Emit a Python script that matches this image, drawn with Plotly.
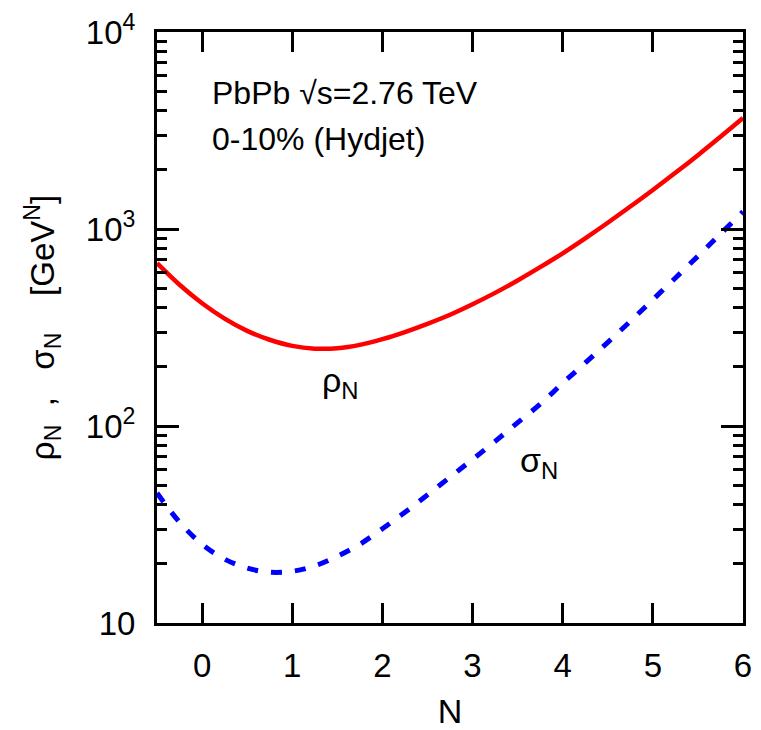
import plotly.graph_objects as go

N = [-0.5, -0.25, 0.0, 0.25, 0.5, 0.75, 1.0, 1.25, 1.5, 1.75, 2.0, 2.25, 2.5,
     2.75, 3.0, 3.25, 3.5, 3.75, 4.0, 4.25, 4.5, 4.75, 5.0, 5.25, 5.5, 5.75, 6.0]
rho = [671, 521, 420, 351, 304, 274, 255, 247, 248, 258, 276, 300, 330,
       367, 415, 474, 548, 640, 753, 897, 1076, 1300, 1578, 1928, 2371, 2938, 3656]
sigma = [45.7, 32.5, 25.1, 21.1, 19.0, 18.1, 18.3, 19.5, 21.8, 25.1, 30.1, 36.5, 44.7,
         55.0, 67.6, 83.6, 104, 129, 165, 209, 266, 340, 438, 564, 728, 944, 1225]

x_ticks = [0, 1, 2, 3, 4, 5, 6]
y_tickvals = [10, 100, 1000, 10000]
y_ticktext = ["10", "10<sup>2</sup>", "10<sup>3</sup>", "10<sup>4</sup>"]

FONT = "Liberation Sans, Arial, Helvetica, sans-serif"
NB = "\u00a0"

L, R, T, B = 157, 18, 32, 107
W, H = 761, 730
pw, ph = W - L - R, H - T - B


def px_to_paper(px, py):
    return (px - L) / pw, 1 - (py - T) / ph


fig = go.Figure()
fig.add_trace(go.Scatter(x=N, y=rho, mode="lines",
                         line=dict(color="#ff0000", width=4.5, shape="spline"),
                         showlegend=False))
fig.add_trace(go.Scatter(x=N, y=sigma, mode="lines",
                         line=dict(color="#0000ff", width=5, dash="11px,13px", shape="spline"),
                         showlegend=False))

fig.add_annotation(x=1.53, y=2.223, xref="x", yref="y", text="ρ<sub>N</sub>", showarrow=False,
                   font=dict(size=34, color="black", family=FONT))
fig.add_annotation(x=3.74, y=1.817, xref="x", yref="y", text="σ<sub>N</sub>", showarrow=False,
                   font=dict(size=34, color="black", family=FONT))

ax, ay = px_to_paper(210, 93)
fig.add_annotation(x=ax, y=ay, xref="paper", yref="paper", text="PbPb √s=2.76 TeV",
                   showarrow=False, font=dict(size=32, color="black", family=FONT),
                   xanchor="left", yanchor="middle")
ax, ay = px_to_paper(210, 139)
fig.add_annotation(x=ax, y=ay, xref="paper", yref="paper", text="0-10% (Hydjet)",
                   showarrow=False, font=dict(size=32, color="black", family=FONT),
                   xanchor="left", yanchor="middle")

ytitle = ("ρ<sub>N</sub>" + NB * 2 + "," + NB * 3 + "σ<sub>N</sub>" + NB * 4
          + "[GeV<sup>N</sup>]")

fig.update_layout(
    width=W, height=H,
    margin=dict(l=L, r=R, t=T, b=B, autoexpand=False),
    paper_bgcolor="white", plot_bgcolor="white",
    font=dict(family=FONT, size=32, color="black"),
    xaxis=dict(range=[-0.5, 6], tickvals=x_ticks, ticks="inside", ticklen=20, tickwidth=3,
               tickcolor="black", showline=True, linewidth=3, linecolor="black", mirror="ticks",
               showgrid=False, zeroline=False, ticklabelstandoff=11, automargin=False,
               tickfont=dict(size=33, family=FONT),
               title=dict(text="N", font=dict(size=34, family=FONT), standoff=22)),
    yaxis=dict(type="log", range=[1, 4], tickvals=y_tickvals, ticktext=y_ticktext,
               ticks="inside", ticklen=22, tickwidth=3, tickcolor="black",
               showline=True, linewidth=3, linecolor="black", mirror="ticks",
               showgrid=False, zeroline=False, ticklabelstandoff=12, automargin=False,
               tickfont=dict(size=33, family=FONT),
               minor=dict(ticks="inside", ticklen=10, tickwidth=3, tickcolor="black", dtick="D1",
                          showgrid=False),
               title=dict(text=ytitle, font=dict(size=33, family=FONT), standoff=22)),
)

fig.write_html("out.html")
